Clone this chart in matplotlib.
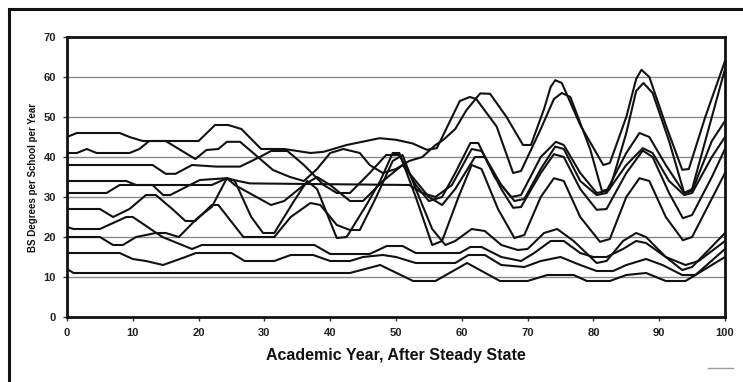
import matplotlib
matplotlib.use("Agg")
import matplotlib.pyplot as plt
from matplotlib.lines import Line2D

plt.rcParams['font.family'] = ['Liberation Sans', 'DejaVu Sans']

# ---- data: (year, BS degrees) keypoints per school ----
school_a_x = [0, 1.5, 8, 9.5, 11.5, 20, 22.5, 24.5, 26.5, 29.5, 33, 37, 39, 42.5, 47.5, 50, 52.5, 54.7, 56.2,
              59.7, 61.2, 62.2, 65.3, 67.8, 69, 72, 74, 75.2, 76.5, 79.5, 81.3, 82.5, 85, 86.5, 87.6, 89, 91.5,
              93.8, 95, 98, 100]
school_a_y = [45, 46, 46, 45, 44, 44, 48, 48, 47, 42, 42, 41, 41.3, 43, 44.7, 44.3, 43.4, 41.8, 42.2,
              54, 55, 54.5, 47.6, 36, 36.5, 47, 54.5, 56, 55, 42, 31.5, 32, 46, 56.5, 58.5, 56, 44,
              31, 32, 50, 62]

school_b_x = [0, 1.5, 3, 4.5, 9.5, 11, 12.5, 15, 19.5, 21.2, 23, 24.3, 26.3, 28.3, 31.3, 33.9, 36, 38, 40, 42,
              44.5, 46, 48, 50, 52, 54, 56, 57.2, 59, 60.7, 62.8, 64.3, 66.8, 69.3, 70.5, 72.5, 73.5, 74.2, 75.2,
              78, 81.5, 82.5, 85, 86.5, 87.3, 88.5, 91, 93.5, 94.5, 97, 100]
school_b_y = [41, 41, 42, 41, 41, 42, 44, 44, 39.5, 41.75, 42, 43.8, 43.8, 41, 36.75, 35, 34, 37, 41, 42,
              41, 38, 36, 37, 39, 40, 43, 44.3, 47, 51.7, 55.9, 55.8, 50, 43, 43, 52, 57.5, 59.2, 58.5,
              48, 38, 38.5, 50, 59.5, 61.8, 60, 48, 36.8, 37, 50, 64]

school_c_x = [0, 13, 15, 16.5, 19, 22.7, 26.3, 29.3, 31, 33.5, 36, 39, 41, 43, 46, 48.5, 50.5, 53, 55, 57, 59,
              61.3, 62.5, 65, 67.5, 69, 72, 74.3, 75.5, 78, 80.5, 82, 85, 87, 88.5, 91, 93.8, 95, 98, 100]
school_c_y = [38, 38, 35.8, 35.8, 38, 37.6, 37.6, 40, 41.5, 41.5, 38, 33, 31, 31, 36, 40.5, 40.5, 33, 29, 30, 36,
              43.5, 43.5, 35, 30, 30.5, 40, 43.8, 43, 36, 31, 31.5, 41, 46, 45, 38, 31, 31.5, 44, 49]

school_d_x = [0, 9, 10.5, 22, 24.3, 26, 27.8, 52, 54, 56, 58.5, 61.5, 63, 66, 68, 69.5, 72, 74.2, 75.5, 78,
              80.5, 82, 85, 87.5, 89, 91.5, 93.8, 95, 98, 100]
school_d_y = [34, 34, 33, 33, 34.7, 34, 33.4, 33, 31, 30, 33, 42, 41.5, 33, 29, 29.5, 37, 42.6, 42, 34,
              30.5, 31, 38, 42.2, 41, 34, 30.5, 31, 40, 45]

school_e_x = [0, 6, 8, 13, 14.6, 15.7, 18.2, 20.2, 24.3, 25.5, 28.8, 31, 33, 36, 38, 40, 43, 45, 48, 51, 52.5,
              55, 57, 59, 62, 63.5, 66, 67.8, 69, 72, 74, 75.5, 78, 80.5, 82, 85, 87.5, 89, 91.5, 93.6, 95, 98, 100]
school_e_y = [31, 31, 33, 33, 30.5, 30.5, 32.6, 34.25, 34.7, 33, 30, 28, 29, 33, 35, 33, 29, 29, 34, 38, 35,
              30, 28, 32, 40, 40, 32, 27.3, 27.5, 36, 40.7, 40, 32, 26.8, 27, 36, 41.6, 40, 31, 24.7, 25.5, 35, 42]

school_f_x = [0, 5, 7, 9.5, 12, 13.5, 16, 18, 19.5, 22, 23, 26.8, 31.5, 34, 37, 38.5, 41, 43, 44.5, 47, 49.5,
              51, 53, 55.5, 57.5, 59, 61.5, 63.5, 66, 68.5, 70, 72.5, 74.5, 77, 80.5, 82, 84.5, 86.5, 88, 91,
              93.5, 95, 100]
school_f_y = [27, 27, 25, 27, 30.5, 30.5, 27, 24, 24, 28, 28, 20, 20, 25, 28.5, 28, 23, 21.75, 21.75, 30, 39,
              40.5, 32, 22, 18, 19, 22, 21.5, 18, 16.75, 17, 21, 22, 19, 13.5, 14, 19, 21, 20, 15,
              11.75, 12.5, 21]

school_g_x = [0, 1, 5, 9, 10, 14.5, 19, 20.5, 37.6, 40, 46, 48.6, 51, 53, 59.7, 61.3, 63, 66, 69, 71, 73.5,
              75.5, 78, 80, 82, 84.5, 86.5, 88, 91, 94, 96, 100]
school_g_y = [22.5, 22, 22, 25, 25, 20, 17, 18, 18, 15.75, 15.75, 17.75, 17.75, 16, 16, 17.5, 17.5, 15, 14, 16, 19,
              19, 16, 15, 15, 17, 19, 18.5, 15, 13, 14, 19]

school_h_x = [0, 5, 7, 8.5, 10.5, 13.5, 15, 17, 19.8, 22, 24.3, 25.5, 28, 29.8, 31.5, 34.5, 36.5, 38, 41, 42.5,
              45.5, 47.6, 49.5, 50.5, 53, 55.5, 57, 59.5, 61.5, 63, 65.5, 68, 69.5, 72, 74, 75.5, 78, 81, 82.5,
              85, 87, 88.5, 91, 93.6, 95, 100]
school_h_y = [20, 20, 18, 18, 20, 21, 21, 20, 24.7, 27.5, 34.7, 34, 25, 21, 21, 29, 34, 32, 19.75, 20,
              28, 34, 41, 41, 30, 18, 19, 30, 38, 37, 27, 19.75, 20.5, 30, 34.7, 34, 25, 18.8, 19.5,
              30, 34.7, 34, 25, 19.2, 20, 36]

school_i_x = [0, 8, 10, 12, 14.6, 18, 19.6, 25, 27, 31.5, 34, 37.4, 40, 43, 45, 48, 50, 53, 59, 61, 63.5, 66,
              69.5, 72, 75, 78, 80.5, 83, 85, 88, 90.5, 93.5, 95.5, 100]
school_i_y = [16, 16, 14.5, 14, 13, 15, 16, 16, 14, 14, 15.5, 15.5, 14, 14, 15, 15.5, 15, 13.5, 13.5, 15.5, 15.5, 13,
              12.5, 14, 15, 13, 11.5, 11.5, 13, 14.5, 13, 10.5, 10.5, 17]

school_j_x = [0, 1, 43, 47.6, 52.6, 56, 60.8, 65.8, 70, 73, 77, 79, 82.5, 85, 88, 91, 94, 100]
school_j_y = [12, 11, 11, 13, 9, 9, 13.5, 9, 9, 10.5, 10.5, 9, 9, 10.5, 11, 9, 9, 15]

series = [(school_a_x, school_a_y), (school_b_x, school_b_y), (school_c_x, school_c_y),
          (school_d_x, school_d_y), (school_e_x, school_e_y), (school_f_x, school_f_y),
          (school_g_x, school_g_y), (school_h_x, school_h_y), (school_i_x, school_i_y),
          (school_j_x, school_j_y)]

x_ticks = [0, 10, 20, 30, 40, 50, 60, 70, 80, 90, 100]
y_ticks = [0, 10, 20, 30, 40, 50, 60, 70]

# ---- figure ----
fig = plt.figure(figsize=(7.43, 3.82), dpi=100)
ax = fig.add_axes([67 / 743, 1 - 317 / 382, (725 - 67) / 743, (317 - 37) / 382])

for y in y_ticks[1:-1]:
    ax.axhline(y, color='#8a8a8a', lw=1.0, zorder=1)

for xs, ys in series:
    ax.plot(xs, ys, color='#111111', lw=1.5, zorder=3, solid_joinstyle='round')

ax.set_xlim(0, 100)
ax.set_ylim(0, 70)
ax.set_xticks(x_ticks)
ax.set_yticks(y_ticks)
ax.tick_params(axis='both', length=3, width=1, color='#333333', labelsize=8,
               labelcolor='#222222', pad=5)
for lbl in ax.get_xticklabels() + ax.get_yticklabels():
    lbl.set_fontweight('bold')
for sp in ax.spines.values():
    sp.set_linewidth(2.0)
    sp.set_color('#111111')

ax.set_xlabel('Academic Year, After Steady State', fontsize=11.5, fontweight='bold',
              color='#111111', labelpad=7)
ax.set_ylabel('BS Degrees per School per Year', fontsize=7, fontweight='bold',
              color='#111111', labelpad=4)

# outer frame of the scanned figure
fig.add_artist(Line2D([9 / 743, 1.0], [1 - 9 / 382, 1 - 9 / 382], transform=fig.transFigure,
                      color='#111111', lw=2.2))
fig.add_artist(Line2D([9 / 743, 9 / 743], [0.0, 1 - 9 / 382], transform=fig.transFigure,
                      color='#111111', lw=2.2))
fig.add_artist(Line2D([708 / 743, 733 / 743], [1 - 368 / 382, 1 - 368 / 382], transform=fig.transFigure,
                      color='#9a9a9a', lw=1.0))

fig.savefig('out.png', dpi=100)
